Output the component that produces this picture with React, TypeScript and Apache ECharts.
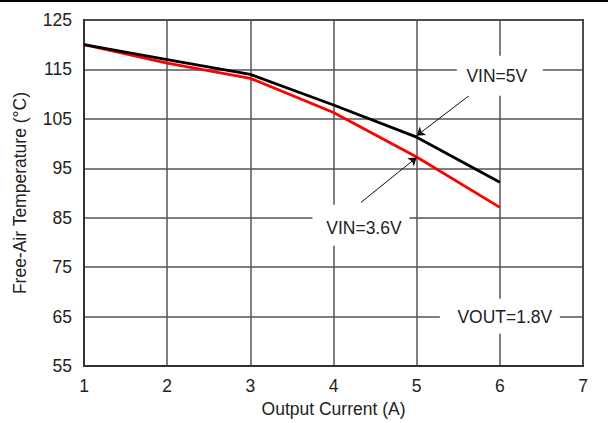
import React, { useEffect, useRef } from "react";
import * as echarts from "echarts";

const currents = [1, 2, 3, 4, 5, 6];
const vin5 = [120, 117, 114, 107.8, 101.3, 92.2];
const vin36 = [120, 116.3, 113.2, 106.3, 97.3, 87.1];
const xTicks = [1, 2, 3, 4, 5, 6, 7];
const yTicks = [55, 65, 75, 85, 95, 105, 115, 125];

const labelTexts = ["VIN=5V", "VIN=3.6V", "VOUT=1.8V"];
const labelCoords = [
  [6.0, 113.7],
  [4.33, 83.5],
  [6.0, 65.1],
];
const labelBoxes = [
  [86, 40],
  [97, 41],
  [120, 35],
];
const labelOffsets = [
  [-3, 0],
  [3, 3],
  [5, 1],
];
const arrowStarts = [
  [5.63, 109.7],
  [4.33, 88.1],
];
const arrowEnds = [
  [5.0, 101.6],
  [5.0, 97.2],
];

const FONT = "Liberation Sans, Arial, sans-serif";
const TXT = "#222";
const FS = 17.5;

export default function App() {
  const ref = useRef<HTMLDivElement>(null);
  useEffect(() => {
    if (!ref.current) return;
    const chart = echarts.init(ref.current, undefined, { renderer: "svg" });
    const markPoints = labelTexts.map((t, i) => ({
      name: t,
      coord: labelCoords[i],
      symbol: "rect",
      symbolSize: labelBoxes[i],
      itemStyle: { color: "#ffffff" },
      label: {
        show: true,
        position: "inside",
        formatter: t,
        color: TXT,
        fontSize: FS,
        fontFamily: FONT,
        offset: labelOffsets[i],
      },
    }));
    const markLines = arrowStarts.map((s, i) => [
      { coord: s },
      { coord: arrowEnds[i] },
    ]);
    chart.setOption({
      animation: false,
      backgroundColor: "#ffffff",
      textStyle: { fontFamily: FONT },
      grid: {
        left: 84,
        right: 25,
        top: 20,
        bottom: 50,
        show: true,
        borderColor: "#333",
        borderWidth: 2,
        containLabel: false,
      },
      xAxis: {
        type: "value",
        min: xTicks[0],
        max: xTicks[xTicks.length - 1],
        interval: 1,
        name: "Output Current (A)",
        nameLocation: "middle",
        nameGap: 31,
        nameTextStyle: { color: TXT, fontSize: FS, fontFamily: FONT },
        axisLine: { show: true, lineStyle: { color: "#333", width: 2 } },
        axisTick: { show: false },
        axisLabel: { color: TXT, fontSize: FS, margin: 11, fontFamily: FONT },
        splitLine: { show: true, lineStyle: { color: "#555", width: 1.5 } },
      },
      yAxis: {
        type: "value",
        min: yTicks[0],
        max: yTicks[yTicks.length - 1],
        interval: 10,
        name: "Free-Air Temperature (°C)",
        nameLocation: "middle",
        nameGap: 55,
        nameTextStyle: { color: TXT, fontSize: FS, fontFamily: FONT },
        axisLine: { show: true, lineStyle: { color: "#333", width: 2 } },
        axisTick: { show: false },
        axisLabel: { color: TXT, fontSize: FS, margin: 12, fontFamily: FONT },
        splitLine: { show: true, lineStyle: { color: "#555", width: 1.5 } },
      },
      series: [
        {
          name: "VIN=3.6V",
          type: "line",
          data: currents.map((c, i) => [c, vin36[i]]),
          showSymbol: false,
          symbol: "none",
          lineStyle: { color: "#ff0000", width: 2.8 },
          z: 3,
        },
        {
          name: "VIN=5V",
          type: "line",
          data: currents.map((c, i) => [c, vin5[i]]),
          showSymbol: false,
          symbol: "none",
          lineStyle: { color: "#000000", width: 2.8 },
          z: 4,
          markPoint: { silent: true, data: markPoints },
          markLine: {
            silent: true,
            symbol: ["none", "arrow"],
            symbolSize: 8,
            lineStyle: { color: "#111", width: 1, type: "solid" },
            label: { show: false },
            data: markLines,
          },
        },
      ],
      graphic: [
        {
          type: "line",
          shape: { x1: 0, y1: 1, x2: 608, y2: 1 },
          style: { stroke: "#000", lineWidth: 2 },
        },
      ],
    });
    return () => chart.dispose();
  }, []);
  return (
    <div
      ref={ref}
      style={{ position: "absolute", left: 0, top: 0, width: 608, height: 423 }}
    />
  );
}
